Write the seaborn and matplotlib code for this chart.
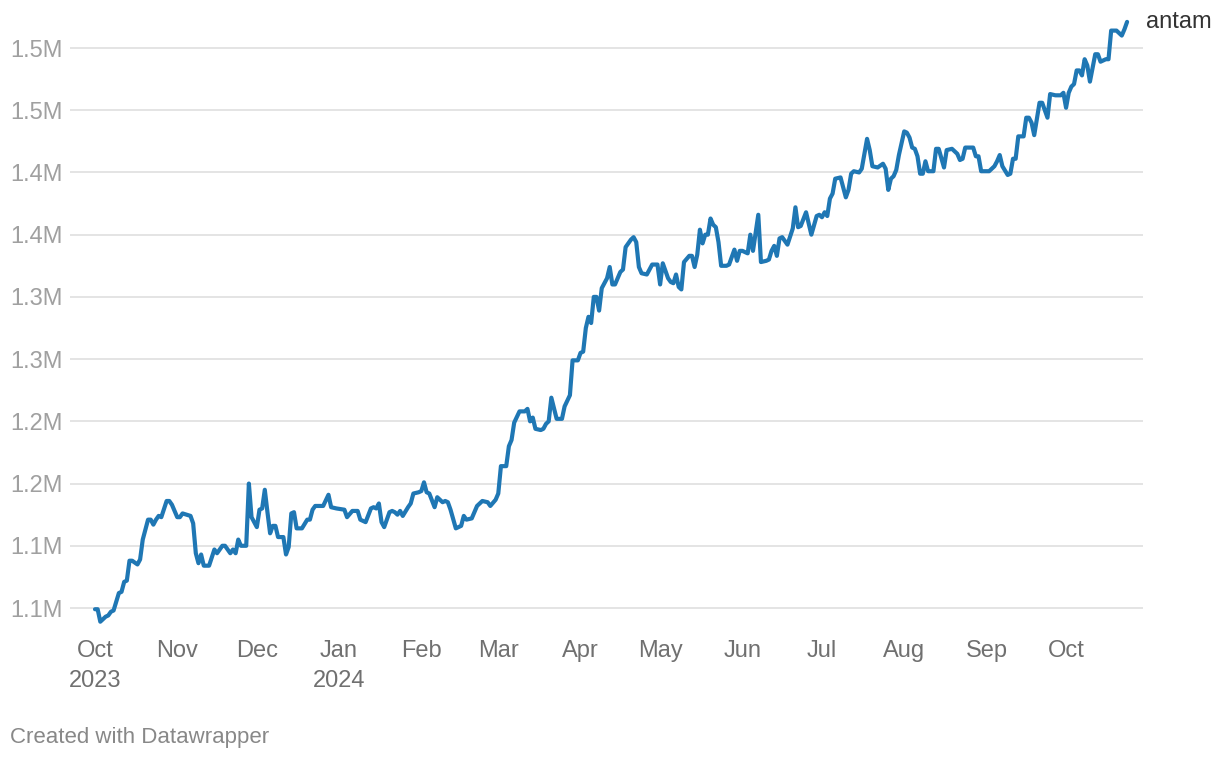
import matplotlib
matplotlib.use("Agg")
import matplotlib.pyplot as plt
import matplotlib.dates as mdates
import seaborn as sns
import pandas as pd
import numpy as np

# ---------------- data ----------------
start_date = "2023-10-01"
series_name = "antam"
day_offsets = [
    0, 1, 2, 4, 5, 6, 7, 8, 9, 10, 11, 12, 13, 14, 16, 17, 18, 20, 21, 22,
    23, 24, 25, 27, 28, 29, 31, 32, 33, 36, 37, 38, 39, 40, 41, 43, 45, 46, 48, 49,
    51, 52, 53, 54, 55, 57, 58, 59, 61, 62, 63, 64, 65, 66, 67, 68, 69, 71, 72, 73,
    74, 75, 76, 78, 80, 81, 82, 83, 86, 88, 89, 91, 94, 95, 97, 99, 100, 102, 104, 105,
    106, 107, 108, 109, 111, 112, 113, 114, 115, 116, 118, 119, 120, 122, 123, 124, 125, 126, 128, 129,
    131, 132, 133, 134, 136, 138, 139, 140, 142, 144, 145, 146, 148, 149, 151, 152, 153, 155, 156, 157,
    158, 160, 162, 163, 164, 165, 166, 168, 169, 170, 171, 172, 174, 176, 177, 179, 180, 182, 183, 184,
    185, 186, 187, 188, 189, 190, 191, 193, 194, 195, 196, 198, 199, 200, 202, 203, 204, 205, 206, 208,
    209, 210, 212, 213, 214, 216, 217, 218, 219, 220, 221, 222, 224, 225, 226, 227, 228, 229, 230, 231,
    232, 233, 234, 235, 236, 238, 239, 241, 242, 243, 244, 246, 247, 248, 250, 251, 253, 254, 255, 256,
    257, 258, 259, 261, 263, 264, 265, 266, 268, 270, 272, 273, 274, 275, 276, 277, 278, 279, 281, 283,
    284, 285, 286, 288, 289, 290, 291, 292, 293, 295, 297, 298, 299, 300, 301, 302, 303, 305, 306, 307,
    308, 309, 310, 311, 312, 313, 314, 316, 317, 318, 320, 321, 323, 325, 326, 327, 328, 331, 332, 333,
    334, 337, 339, 340, 341, 342, 344, 345, 346, 347, 348, 350, 351, 352, 353, 354, 356, 357, 359, 360,
    362, 364, 365, 366, 367, 368, 369, 370, 371, 372, 373, 374, 375, 377, 378, 379, 381, 382, 383, 385,
    387, 388, 389,
]
price_thousands = [
    1049, 1049, 1039, 1043, 1044, 1047, 1048, 1055, 1062, 1063, 1071, 1072, 1088, 1088, 1085, 1089, 1105, 1121, 1121, 1117,
    1121, 1124, 1123, 1136, 1136, 1133, 1123, 1123, 1126, 1124, 1118, 1094, 1086, 1093, 1084, 1084, 1097, 1094, 1100, 1100,
    1094, 1097, 1094, 1105, 1100, 1100, 1150, 1123, 1115, 1129, 1130, 1145, 1127, 1110, 1116, 1116, 1107, 1107, 1093, 1099,
    1126, 1127, 1114, 1114, 1121, 1121, 1129, 1132, 1132, 1141, 1131, 1130, 1129, 1123, 1128, 1128, 1121, 1119, 1130, 1131,
    1130, 1134, 1119, 1115, 1127, 1128, 1127, 1125, 1128, 1124, 1131, 1134, 1142, 1143, 1144, 1151, 1143, 1142, 1131, 1139,
    1135, 1136, 1135, 1129, 1114, 1116, 1124, 1121, 1122, 1132, 1134, 1136, 1135, 1132, 1137, 1142, 1164, 1164, 1180, 1185,
    1199, 1208, 1208, 1210, 1200, 1203, 1194, 1193, 1194, 1198, 1200, 1219, 1202, 1202, 1212, 1221, 1249, 1249, 1255, 1256,
    1275, 1284, 1279, 1300, 1300, 1289, 1307, 1315, 1324, 1310, 1310, 1320, 1322, 1340, 1346, 1348, 1344, 1324, 1319, 1318,
    1322, 1326, 1326, 1310, 1327, 1315, 1312, 1311, 1318, 1308, 1306, 1328, 1333, 1333, 1324, 1334, 1354, 1343, 1350, 1350,
    1363, 1358, 1356, 1344, 1325, 1325, 1326, 1338, 1329, 1337, 1337, 1335, 1350, 1337, 1366, 1328, 1329, 1330, 1337, 1341,
    1333, 1347, 1348, 1342, 1355, 1372, 1356, 1357, 1368, 1350, 1365, 1366, 1364, 1368, 1365, 1379, 1383, 1395, 1396, 1380,
    1386, 1399, 1401, 1400, 1403, 1415, 1427, 1418, 1405, 1404, 1407, 1403, 1386, 1395, 1397, 1402, 1414, 1433, 1432, 1428,
    1420, 1419, 1413, 1399, 1399, 1409, 1401, 1401, 1419, 1419, 1404, 1418, 1419, 1415, 1410, 1411, 1420, 1420, 1413, 1413,
    1401, 1401, 1405, 1409, 1414, 1405, 1398, 1399, 1411, 1411, 1429, 1429, 1444, 1444, 1440, 1430, 1456, 1456, 1444, 1463,
    1462, 1462, 1464, 1452, 1464, 1469, 1471, 1482, 1482, 1478, 1491, 1486, 1473, 1495, 1495, 1489, 1491, 1491, 1514, 1514,
    1510, 1515, 1521,
]
x_tick_dates = ["2023-10-01", "2023-11-01", "2023-12-01", "2024-01-01", "2024-02-01",
                "2024-03-01", "2024-04-01", "2024-05-01", "2024-06-01", "2024-07-01",
                "2024-08-01", "2024-09-01", "2024-10-01"]
x_tick_labels = ["Oct\n2023", "Nov", "Dec", "Jan\n2024", "Feb", "Mar", "Apr", "May",
                 "Jun", "Jul", "Aug", "Sep", "Oct"]
y_tick_values = [1050000, 1100000, 1150000, 1200000, 1250000, 1300000, 1350000,
                 1400000, 1450000, 1500000]
y_tick_labels = ["1.1M", "1.1M", "1.2M", "1.2M", "1.3M", "1.3M", "1.4M", "1.4M",
                 "1.5M", "1.5M"]
footer_text = "Created with Datawrapper"

# ---------------- build table ----------------
df = pd.DataFrame({
    "date": pd.to_datetime(start_date) + pd.to_timedelta(day_offsets, unit="D"),
    "price": np.array(price_thousands) * 1000,
})

sns.set_theme(style="white")
plt.rcParams["font.family"] = ["Liberation Sans", "DejaVu Sans"]

W, H = 1220, 760
fig = plt.figure(figsize=(W / 100, H / 100), dpi=100)
ax = fig.add_axes([70 / W, (H - 630) / H, (1143 - 70) / W, (630 - 15) / H])

line_color = "#1f77b4"
sns.lineplot(data=df, x="date", y="price", ax=ax, color=line_color,
             linewidth=3.0, legend=False)

x0 = pd.to_datetime(start_date)
ax.set_xlim(mdates.date2num(x0 - pd.Timedelta(days=9.42)),
            mdates.date2num(x0 + pd.Timedelta(days=395.0)))
ax.set_ylim(1032321, 1526535)

ax.set_yticks(y_tick_values)
ax.set_yticklabels(y_tick_labels)
ax.set_xticks(mdates.date2num(pd.to_datetime(x_tick_dates)))
ax.set_xticklabels(x_tick_labels, linespacing=1.45)

ax.tick_params(axis="y", length=0, pad=5.5, labelsize=17, labelcolor="#a0a0a0")
ax.tick_params(axis="x", length=0, pad=7.5, labelsize=17, labelcolor="#707070")

ax.yaxis.grid(True, color="#e2e2e2", linewidth=1.3)
ax.xaxis.grid(False)
ax.set_axisbelow(True)
for s in ax.spines.values():
    s.set_visible(False)
ax.set_xlabel("")
ax.set_ylabel("")

last = df.iloc[-1]
ax.annotate(series_name, xy=(mdates.date2num(last["date"]), last["price"]),
            xytext=(13.5, 0), textcoords="offset points", va="center", ha="left",
            fontsize=17, color="#333333", annotation_clip=False)

fig.text(10 / W, (H - 737) / H, footer_text, fontsize=16, color="#888888",
         va="center", ha="left")

fig.savefig("out.png", dpi=100, facecolor="white")
